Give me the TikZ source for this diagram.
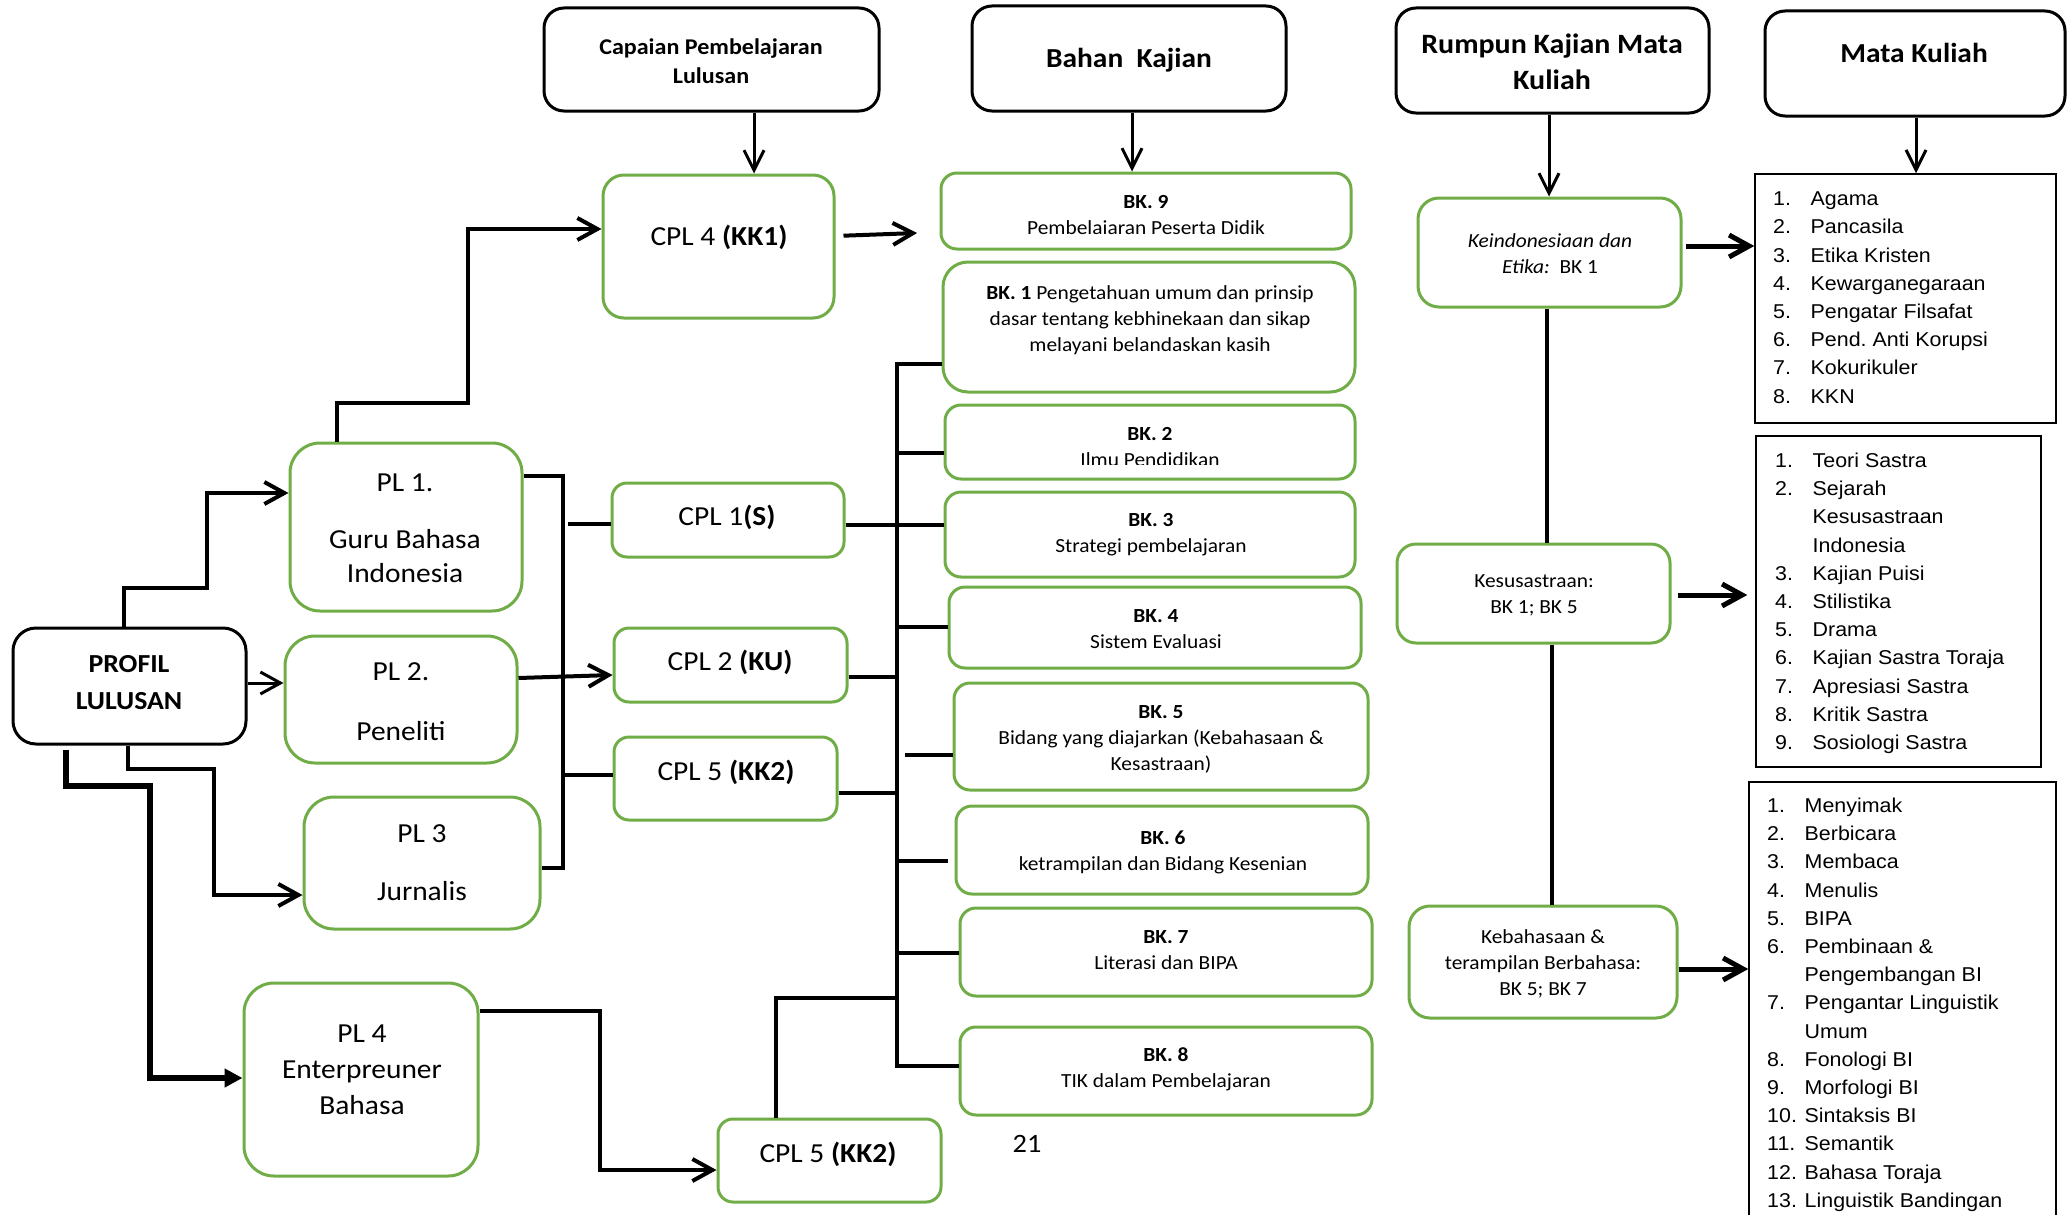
\documentclass[tikz,border=0pt]{standalone}
\usepackage{fontspec}
\setmainfont{Carlito}[FakeStretch=1.07]
\newfontfamily\arialf{Liberation Sans}[FakeStretch=1.07]
\usetikzlibrary{arrows.meta,fit}
\definecolor{boxgreen}{HTML}{70AD47}
\newcommand{\mkitem}[2]{\makebox[37.5pt][l]{#1}#2}
\newcommand{\mkcont}[1]{\hspace*{37.5pt}#1}
\frenchspacing
\begin{document}
\begin{tikzpicture}[x=1pt,y=-1pt,
  hbox/.style={draw=black,line width=3pt,rounded corners=20pt,inner sep=0pt},
  gbox/.style={draw=boxgreen,line width=3pt,rounded corners=#1,inner sep=0pt},
  gbox/.default=16pt,
  lbox/.style={draw=black,line width=1.5pt,inner sep=0pt},
  hdtext/.style={font=\bfseries\fontsize{27.5}{36}\selectfont,align=center},
  pltext/.style={font=\fontsize{27.5}{34}\selectfont,align=center},
  cpltext/.style={font=\fontsize{27.5}{34}\selectfont},
  bktext/.style={font=\fontsize{20}{26}\selectfont,align=center},
  listtext/.style={font=\arialf\fontsize{20}{28.2}\selectfont,align=left,anchor=north west,inner sep=0pt},
  conn/.style={line width=4pt},
  thinconn/.style={line width=3pt},
  wideconn/.style={line width=5pt},
  heavyconn/.style={line width=5.5pt},
  tip/.style={-{Straight Barb[length=20pt,width=22pt]}},
  tri/.style={-{Triangle[length=18pt,width=18pt]}}
]
\clip (0,0) rectangle (2069,1215);
\fill[white] (0,0) rectangle (2069,1215);

% ---------- column headers ----------
\node[hbox,fit={(544,8)(879,111)}] (caph) {};
\node[font=\bfseries\fontsize{22.5}{29}\selectfont,align=center] (capht) at (711,61.5) {Capaian Pembelajaran\\Lulusan};
\node[hbox,fit={(972,6)(1286,111)}] (bkh) {};
\node[hdtext] (bkht) at (1129,60) {Bahan~~Kajian};
\node[hbox,fit={(1396,8)(1709,113)}] (rumh) {};
\node[hdtext,font=\bfseries\fontsize{28}{36}\selectfont] (rumht) at (1552,62) {Rumpun Kajian Mata\\Kuliah};
\node[hbox,fit={(1765,11)(2065,116)}] (mkh) {};
\node[hdtext,font=\bfseries\fontsize{27.5}{36}\selectfont] (mkht) at (1914,53) {Mata Kuliah};

% ---------- graduate profile ----------
\node[hbox,rounded corners=23pt,fit={(13,628)(246,744)}] (profil) {};
\node[font=\bfseries\fontsize{26}{37}\selectfont,align=center] (profilt) at (129,682.5) {PROFIL\\LULUSAN};

\node[gbox=30pt,fit={(290,443)(522,611)}] (pl1) {};
\node[pltext] (pl1t) at (405,528.5) {PL 1.\\[23pt]Guru Bahasa\\Indonesia};
\node[gbox=30pt,fit={(285,636)(517,763)}] (pl2) {};
\node[pltext] (pl2t) at (401,702) {PL 2.\\[26pt]Peneliti};
\node[gbox=30pt,fit={(304,797)(540,929)}] (pl3) {};
\node[pltext] (pl3t) at (422,863) {PL 3\\[24pt]Jurnalis};
\node[gbox=30pt,fit={(244,983)(478,1176)}] (pl4) {};
\node[pltext,font=\fontsize{27.5}{36}\selectfont] (pl4t) at (362,1070) {PL 4\\Enterpreuner\\Bahasa};

% ---------- learning outcomes ----------
\node[gbox=21pt,fit={(603,175)(834,318)}] (cpl4) {};
\node[cpltext] (cpl4t) at (719,237) {CPL 4 \textbf{(KK1)}};
\node[gbox=15pt,fit={(612,483)(844,557)}] (cpl1) {};
\node[cpltext] (cpl1t) at (727,517) {CPL 1\textbf{(S)}};
\node[gbox=15pt,fit={(614,628)(847,702)}] (cpl2) {};
\node[cpltext] (cpl2t) at (730,662) {CPL 2 \textbf{(KU)}};
\node[gbox=15pt,fit={(614,737)(837,820)}] (cpl5) {};
\node[cpltext] (cpl5t) at (726,772) {CPL 5 \textbf{(KK2)}};
\node[gbox=15pt,fit={(718,1119)(941,1202)}] (cpl5b) {};
\node[cpltext] (cpl5bt) at (828,1154) {CPL 5 \textbf{(KK2)}};

% ---------- study materials ----------
\node[gbox,fit={(941,173)(1351,249)}] (bk9) {};
\node[bktext] (bk9t) at (1146,215.5) {\textbf{BK. 9}\\Pembelaiaran Peserta Didik};
\node[gbox=25pt,fit={(943,262)(1355,392)}] (bk1) {};
\node[bktext] (bk1t) at (1150,320) {\textbf{BK. 1} Pengetahuan umum dan prinsip\\dasar tentang kebhinekaan dan sikap\\melayani belandaskan kasih};
\node[gbox,fit={(945,405)(1355,479)}] (bk2) {};
\begin{scope}
  \clip (930,395) rectangle (1370,464.5);
  \node[bktext] (bk2t) at (1150,447) {\textbf{BK. 2}\\Ilmu Pendidikan};
\end{scope}
\node[gbox,fit={(945,492)(1355,577)}] (bk3) {};
\node[bktext] (bk3t) at (1151,534.5) {\textbf{BK. 3}\\Strategi pembelajaran};
\node[gbox,fit={(949,587)(1361,668)}] (bk4) {};
\node[bktext] (bk4t) at (1156,629.5) {\textbf{BK. 4}\\Sistem Evaluasi};
\node[gbox,fit={(954,683)(1368,790)}] (bk5) {};
\node[bktext] (bk5t) at (1161,739) {\textbf{BK. 5}\\Bidang yang diajarkan (Kebahasaan \&\\Kesastraan)};
\node[gbox,fit={(956,806)(1368,894)}] (bk6) {};
\node[bktext] (bk6t) at (1163,852) {\textbf{BK. 6}\\ketrampilan dan Bidang Kesenian};
\node[gbox,fit={(960,908)(1372,996)}] (bk7) {};
\node[bktext] (bk7t) at (1166,950.5) {\textbf{BK. 7}\\Literasi dan BIPA};
\node[gbox,fit={(960,1027)(1372,1115)}] (bk8) {};
\node[bktext] (bk8t) at (1166,1069.5) {\textbf{BK. 8}\\TIK dalam Pembelajaran};

\node[font=\fontsize{26.5}{34}\selectfont] (pagenum) at (1027,1144) {21};

% ---------- course clusters ----------
\node[gbox=21pt,fit={(1418,198)(1681,307)}] (keind) {};
\node[bktext] (keindt) at (1550,254) {\textit{Keindonesiaan dan}\\\textit{Etika:}~~BK 1};
\node[gbox=19pt,fit={(1397,544)(1670,643)}] (kesus) {};
\node[bktext] (kesust) at (1534,595) {Kesusastraan:\\BK 1; BK 5};
\node[gbox=21pt,fit={(1409,906)(1677,1018)}] (keba) {};
\node[bktext] (kebat) at (1543,963.5) {Kebahasaan \&\\terampilan Berbahasa:\\BK 5; BK 7};

% ---------- course lists ----------
\node[lbox,fit={(1755,174)(2056,423)}] (list1) {};
\node[listtext] (list1t) at (1773,191.7) {\mkitem{1.}{Agama}\\\mkitem{2.}{Pancasila}\\\mkitem{3.}{Etika Kristen}\\\mkitem{4.}{Kewarganegaraan}\\\mkitem{5.}{Pengatar Filsafat}\\\mkitem{6.}{Pend. Anti Korupsi}\\\mkitem{7.}{Kokurikuler}\\\mkitem{8.}{KKN}};
\node[lbox,fit={(1756,436)(2041,767)}] (list2) {};
\node[listtext] (list2t) at (1775,452.7) {\mkitem{1.}{Teori Sastra}\\\mkitem{2.}{Sejarah}\\\mkcont{Kesusastraan}\\\mkcont{Indonesia}\\\mkitem{3.}{Kajian Puisi}\\\mkitem{4.}{Stilistika}\\\mkitem{5.}{Drama}\\\mkitem{6.}{Kajian Sastra Toraja}\\\mkitem{7.}{Apresiasi Sastra}\\\mkitem{8.}{Kritik Sastra}\\\mkitem{9.}{Sosiologi Sastra}};
\node[lbox,fit={(1749,782)(2056,1240)}] (list3) {};
\node[listtext] (list3t) at (1767,797.7) {\mkitem{1.}{Menyimak}\\\mkitem{2.}{Berbicara}\\\mkitem{3.}{Membaca}\\\mkitem{4.}{Menulis}\\\mkitem{5.}{BIPA}\\\mkitem{6.}{Pembinaan \&}\\\mkcont{Pengembangan BI}\\\mkitem{7.}{Pengantar Linguistik}\\\mkcont{Umum}\\\mkitem{8.}{Fonologi BI}\\\mkitem{9.}{Morfologi BI}\\\mkitem{10.}{Sintaksis BI}\\\mkitem{11.}{Semantik}\\\mkitem{12.}{Bahasa Toraja}\\\mkitem{13.}{Linguistik Bandingan}};

% ---------- header arrows ----------
\draw[thinconn,-{Straight Barb[length=20pt,width=20pt]}] (754,0 |- caph.south) -- (754,0 |- cpl4.north);
\draw[thinconn,-{Straight Barb[length=20pt,width=20pt]}] (1132,0 |- bkh.south) -- (1132,0 |- bk9.north);
\draw[thinconn,-{Straight Barb[length=20pt,width=20pt]}] (1549,0 |- rumh.south) -- (1549,0 |- keind.north);
\draw[thinconn,-{Straight Barb[length=20pt,width=20pt]}] (1916,0 |- mkh.south) -- (1916,0 |- list1.north);

% ---------- profile to PL ----------
\draw[conn,tip] (124,0 |- profil.north) -- (124,588) -| (207,493) -- (pl1.west |- 0,493);
\draw[thinconn,tip] (profil.east |- 0,683) -- (pl2.west |- 0,683);
\draw[conn,tip] (128,0 |- profil.south) -- (128,769) -| (214,895) -- (pl3.west |- 0,895);
\draw[heavyconn,tri,shorten <=4pt] (66,0 |- profil.south) -- (66,786) -| (150,1078) -- (pl4.west |- 0,1078);

% ---------- PL to CPL ----------
\draw[conn,tip] (337,0 |- pl1.north) -- (337,403) -| (468,229) -- (cpl4.west |- 0,229);
\draw[conn] (pl1.east |- 0,476) -| (563,868) -- (pl3.east |- 0,868);
\draw[conn] (568,524) -- (cpl1.west |- 0,524);
\draw[conn,tip] (pl2.east |- 0,678) -- (cpl2.west |- 0,675);
\draw[conn] (563,775) -- (cpl5.west |- 0,775);
\draw[conn,tip] (pl4.east |- 0,1011) -- (600,1011) -- (600,1170) -- (cpl5b.west |- 0,1170);

% ---------- CPL to BK ----------
\coordinate (bk9in) at (917,233);
\draw[conn,tip,shorten <=8pt] (cpl4.east |- 0,236) -- (bk9in);
\draw[line width=4.5pt] (bk1.west |- 0,364) -| (897,1066) -- (bk8.west |- 0,1066);
\draw[conn] (897,453) -- (bk2.west |- 0,453);
\draw[conn] (cpl1.east |- 0,525) -- (bk3.west |- 0,525);
\draw[conn] (897,627) -- (bk4.west |- 0,627);
\draw[conn] (cpl2.east |- 0,677) -- (897,677);
\draw[conn] (905,755) -- (bk5.west |- 0,755);
\draw[conn] (cpl5.east |- 0,793) -- (897,793);
\coordinate (bk6in) at (948,861);
\draw[conn] (897,861) -- (bk6in);
\draw[conn] (897,953) -- (bk7.west |- 0,953);
\draw[conn] (776,0 |- cpl5b.north) -- (776,998) -- (897,998);

% ---------- clusters to courses ----------
\draw[wideconn,tip,shorten <=3pt] (keind.east |- 0,246) -- (list1.west |- 0,246);
\draw[wideconn,tip,shorten <=6pt,shorten >=8pt] (kesus.east |- 0,595) -- (list2.west |- 0,595);
\draw[wideconn,tip] (keba.east |- 0,969) -- (list3.west |- 0,969);
\draw[line width=3.5pt] (1547,0 |- keind.south) -- (1547,0 |- kesus.north);
\draw[line width=3.5pt] (1552,0 |- kesus.south) -- (1552,0 |- keba.north);
\end{tikzpicture}
\end{document}
